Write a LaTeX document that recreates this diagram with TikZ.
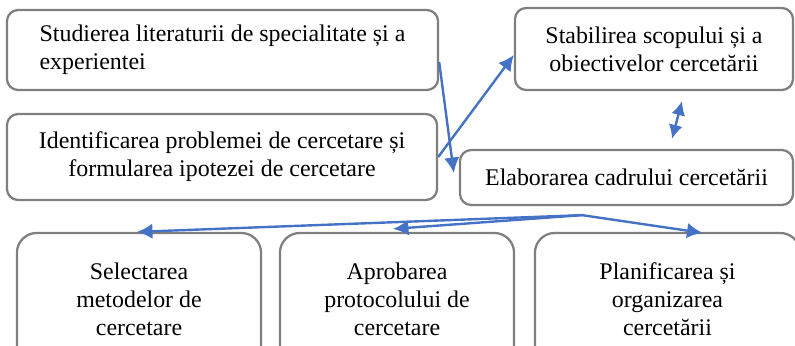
\documentclass[tikz,border=0pt]{standalone}
\usepackage{fontspec}
\setmainfont{Liberation Serif}
\usetikzlibrary{calc,arrows.meta}
\definecolor{arrowblue}{HTML}{4472C4}
\definecolor{boxgray}{HTML}{7F7F7F}
\tikzset{
    stage/.style = {draw=boxgray, line width=1.6pt, rounded corners=8pt, align=center,
        inner sep=0pt, font=\fontsize{17}{20}\selectfont},
    substage/.style = {stage, rounded corners=14pt, minimum height=3.3cm},
    link/.style = {arrowblue, line width=1.7pt, -{Latex[length=11pt,width=11pt]}},
    twolink/.style = {link, {Latex[length=10pt,width=10pt]}-{Latex[length=10pt,width=10pt]}}
}
\begin{document}
\begin{tikzpicture}[x=0.025cm, y=-0.025cm]

    \clip (0,0) rectangle (795,345);

    % top row
    \node[stage, minimum width=10.775cm, minimum height=2cm, align=left] (studiu) at (222.5,50)
        {Studierea literaturii de specialitate și a\\ experientei};
    \node[stage, minimum width=6.95cm, minimum height=2.05cm] (scop) at (654,49)
        {Stabilirea scopului și a\\obiectivelor cercetării};

    \node[stage, minimum width=10.75cm, minimum height=2.15cm] (problema) at (222,157)
        {Identificarea problemei de cercetare și\\formularea ipotezei de cercetare};
    \node[stage, minimum width=8.325cm, minimum height=1.375cm] (cadru) at (626.5,177.5)
        {Elaborarea cadrului cercetării};

    % bottom row
    \node[substage, minimum width=6.1cm] (metode) at (139,299)
        {Selectarea\\metodelor de\\cercetare};
    \node[substage, minimum width=5.85cm] (protocol) at (397,299)
        {Aprobarea\\protocolului de\\cercetare};
    \node[substage, minimum width=6.625cm] (plan) at (667.5,299)
        {Planificarea și\\organizarea\\cercetării};

    \draw[link] ($(studiu.east) + (0,12)$) -- ($(cadru.west) + (-5,-4.5)$);
    \draw[link] (problema.east) -- ($(scop.west) + (0,6)$);
    \draw[twolink] ($(scop.south) + (28,10)$) -- ($(cadru.north) + (45.5,-10)$);

    \coordinate (hub) at ($(cadru.south) + (-44.5,9)$);
    \draw[link] (hub) -- ($(metode.north) + (-2,0)$);
    \draw[link] (hub) -- ($(protocol.north) + (-4,-3)$);
    \draw[link] (hub) -- ($(plan.north) + (35,1)$);

\end{tikzpicture}
\end{document}
